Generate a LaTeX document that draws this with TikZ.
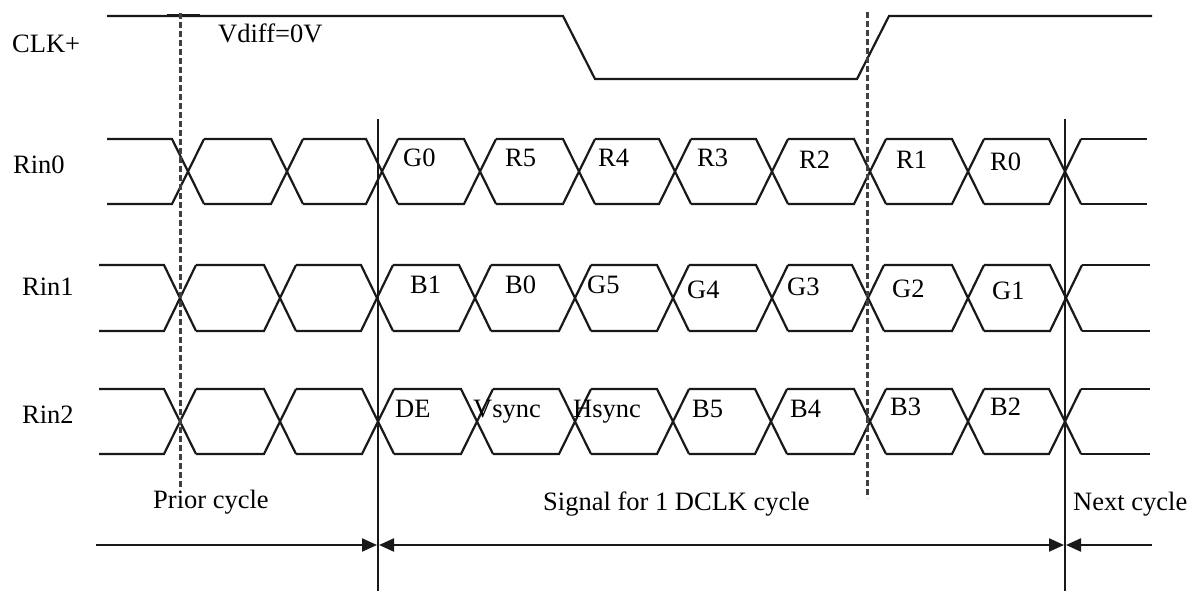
\documentclass[tikz,border=0pt]{standalone}
\usepackage{fontspec}
\setmainfont{Liberation Serif}
\usetikzlibrary{arrows.meta}
\newcommand\drawbus[6]{% start x, end x, high y, low y, crossings, last crossing
  \foreach \c [remember=\c as \p (initially #1-16)] in {#5}{%
    \draw[sig] (\p+16,#3) -- (\c-16,#3) -- (\c+16,#4);
    \draw[sig] (\p+16,#4) -- (\c-16,#4) -- (\c+16,#3);
  }
  \draw[sig] (#6+16,#3) -- (#2,#3);
  \draw[sig] (#6+16,#4) -- (#2,#4);
}
\begin{document}
\begin{tikzpicture}[x=1pt,y=-1pt,
  sig/.style={line width=2.2pt,line join=miter,color=black!90},
  lbl/.style={anchor=base west,inner sep=0pt,font=\fontsize{26.5}{30}\selectfont},
  vline/.style={line width=2.2pt,color=black!90},
  dline/.style={line width=3pt,dash pattern=on 6pt off 3pt,color=black!75},
  arr/.style={line width=2.2pt,color=black!90},
  tipr/.style={-{Triangle[length=15pt,width=13pt]}},
  tipl/.style={{Triangle[length=15pt,width=13pt]}-},
  tipb/.style={{Triangle[length=15pt,width=13pt]}-{Triangle[length=15pt,width=13pt]}}]
\fill[white] (0,0) rectangle (1194,591);
\useasboundingbox (0,0) rectangle (1194,591);

% labels on the left
\node[lbl] (clk) at (12,53) {CLK+};
\node[lbl] (r0) at (13,173) {Rin0};
\node[lbl] (r1) at (22,295) {Rin1};
\node[lbl] (r2) at (22,423) {Rin2};
\node[lbl] (vd) at (218,43) {Vdiff=0V};

% clock
\draw[sig] (107,16) -- (563,16) -- (595,79) -- (857,79) -- (889,16) -- (1152,16);
\draw[line width=3pt,color=black!90] (167,16) -- (200,16);

% buses
\drawbus{107}{1147}{139}{204}{188,287,382,480,579,675,772,870,968,1065}{1065}
\drawbus{99}{1150}{265}{331}{180,280,377,475,575,673,772,868,968,1066}{1066}
\drawbus{99}{1150}{389}{454}{180,280,378,477,575,673,771,870,968,1065}{1065}

% vertical lines
\coordinate (v1t) at (378,119);
\coordinate (v1b) at (378,591);
\coordinate (v2t) at (1065,119);
\coordinate (v2b) at (1065,591);
\draw[vline] (v1t) -- (v1b);
\draw[vline] (v2t) -- (v2b);

% dashed lines
\coordinate (d1t) at (180,13);
\coordinate (d1b) at (180,487);
\coordinate (d2t) at (867,12);
\coordinate (d2b) at (867,498);
\draw[dline] (d1t) -- (d1b);
\draw[dline] (d2t) -- (d2b);

% data labels Rin0
\node[lbl] (g0) at (403,166) {G0};
\node[lbl] (r5) at (505,166) {R5};
\node[lbl] (r4) at (598,166) {R4};
\node[lbl] (r3) at (697,167) {R3};
\node[lbl] (r2l) at (799,168) {R2};
\node[lbl] (r1l) at (896,168) {R1};
\node[lbl] (r0l) at (990,170) {R0};

% data labels Rin1
\node[lbl] (b1) at (410,293) {B1};
\node[lbl] (b0) at (505,293) {B0};
\node[lbl] (g5) at (587,293) {G5};
\node[lbl] (g4) at (687,298) {G4};
\node[lbl] (g3) at (787,295) {G3};
\node[lbl] (g2) at (892,297) {G2};
\node[lbl] (g1) at (992,299) {G1};

% data labels Rin2
\node[lbl] (de) at (395,417) {DE};
\node[lbl] (vs) at (473,417) {Vsync};
\node[lbl] (hs) at (573,417) {Hsync};
\node[lbl] (b5) at (692,417) {B5};
\node[lbl] (b4) at (790,417) {B4};
\node[lbl] (b3) at (890,415) {B3};
\node[lbl] (b2) at (990,415) {B2};

% cycle labels
\node[lbl] (prior) at (153,508) {Prior cycle};
\node[lbl] (sig) at (543,510) {Signal for 1 DCLK cycle};
\node[lbl] (next) at (1073,510) {Next cycle};

% bottom arrows
\coordinate (a0) at (96,545);
\coordinate (a1) at (377,545);
\coordinate (a2) at (379,545);
\coordinate (a3) at (1064,545);
\coordinate (a4) at (1066,545);
\coordinate (a5) at (1152,545);
\draw[arr,tipr] (a0) -- (a1);
\draw[arr,tipb] (a2) -- (a3);
\draw[arr,tipl] (a4) -- (a5);
\end{tikzpicture}
\end{document}
